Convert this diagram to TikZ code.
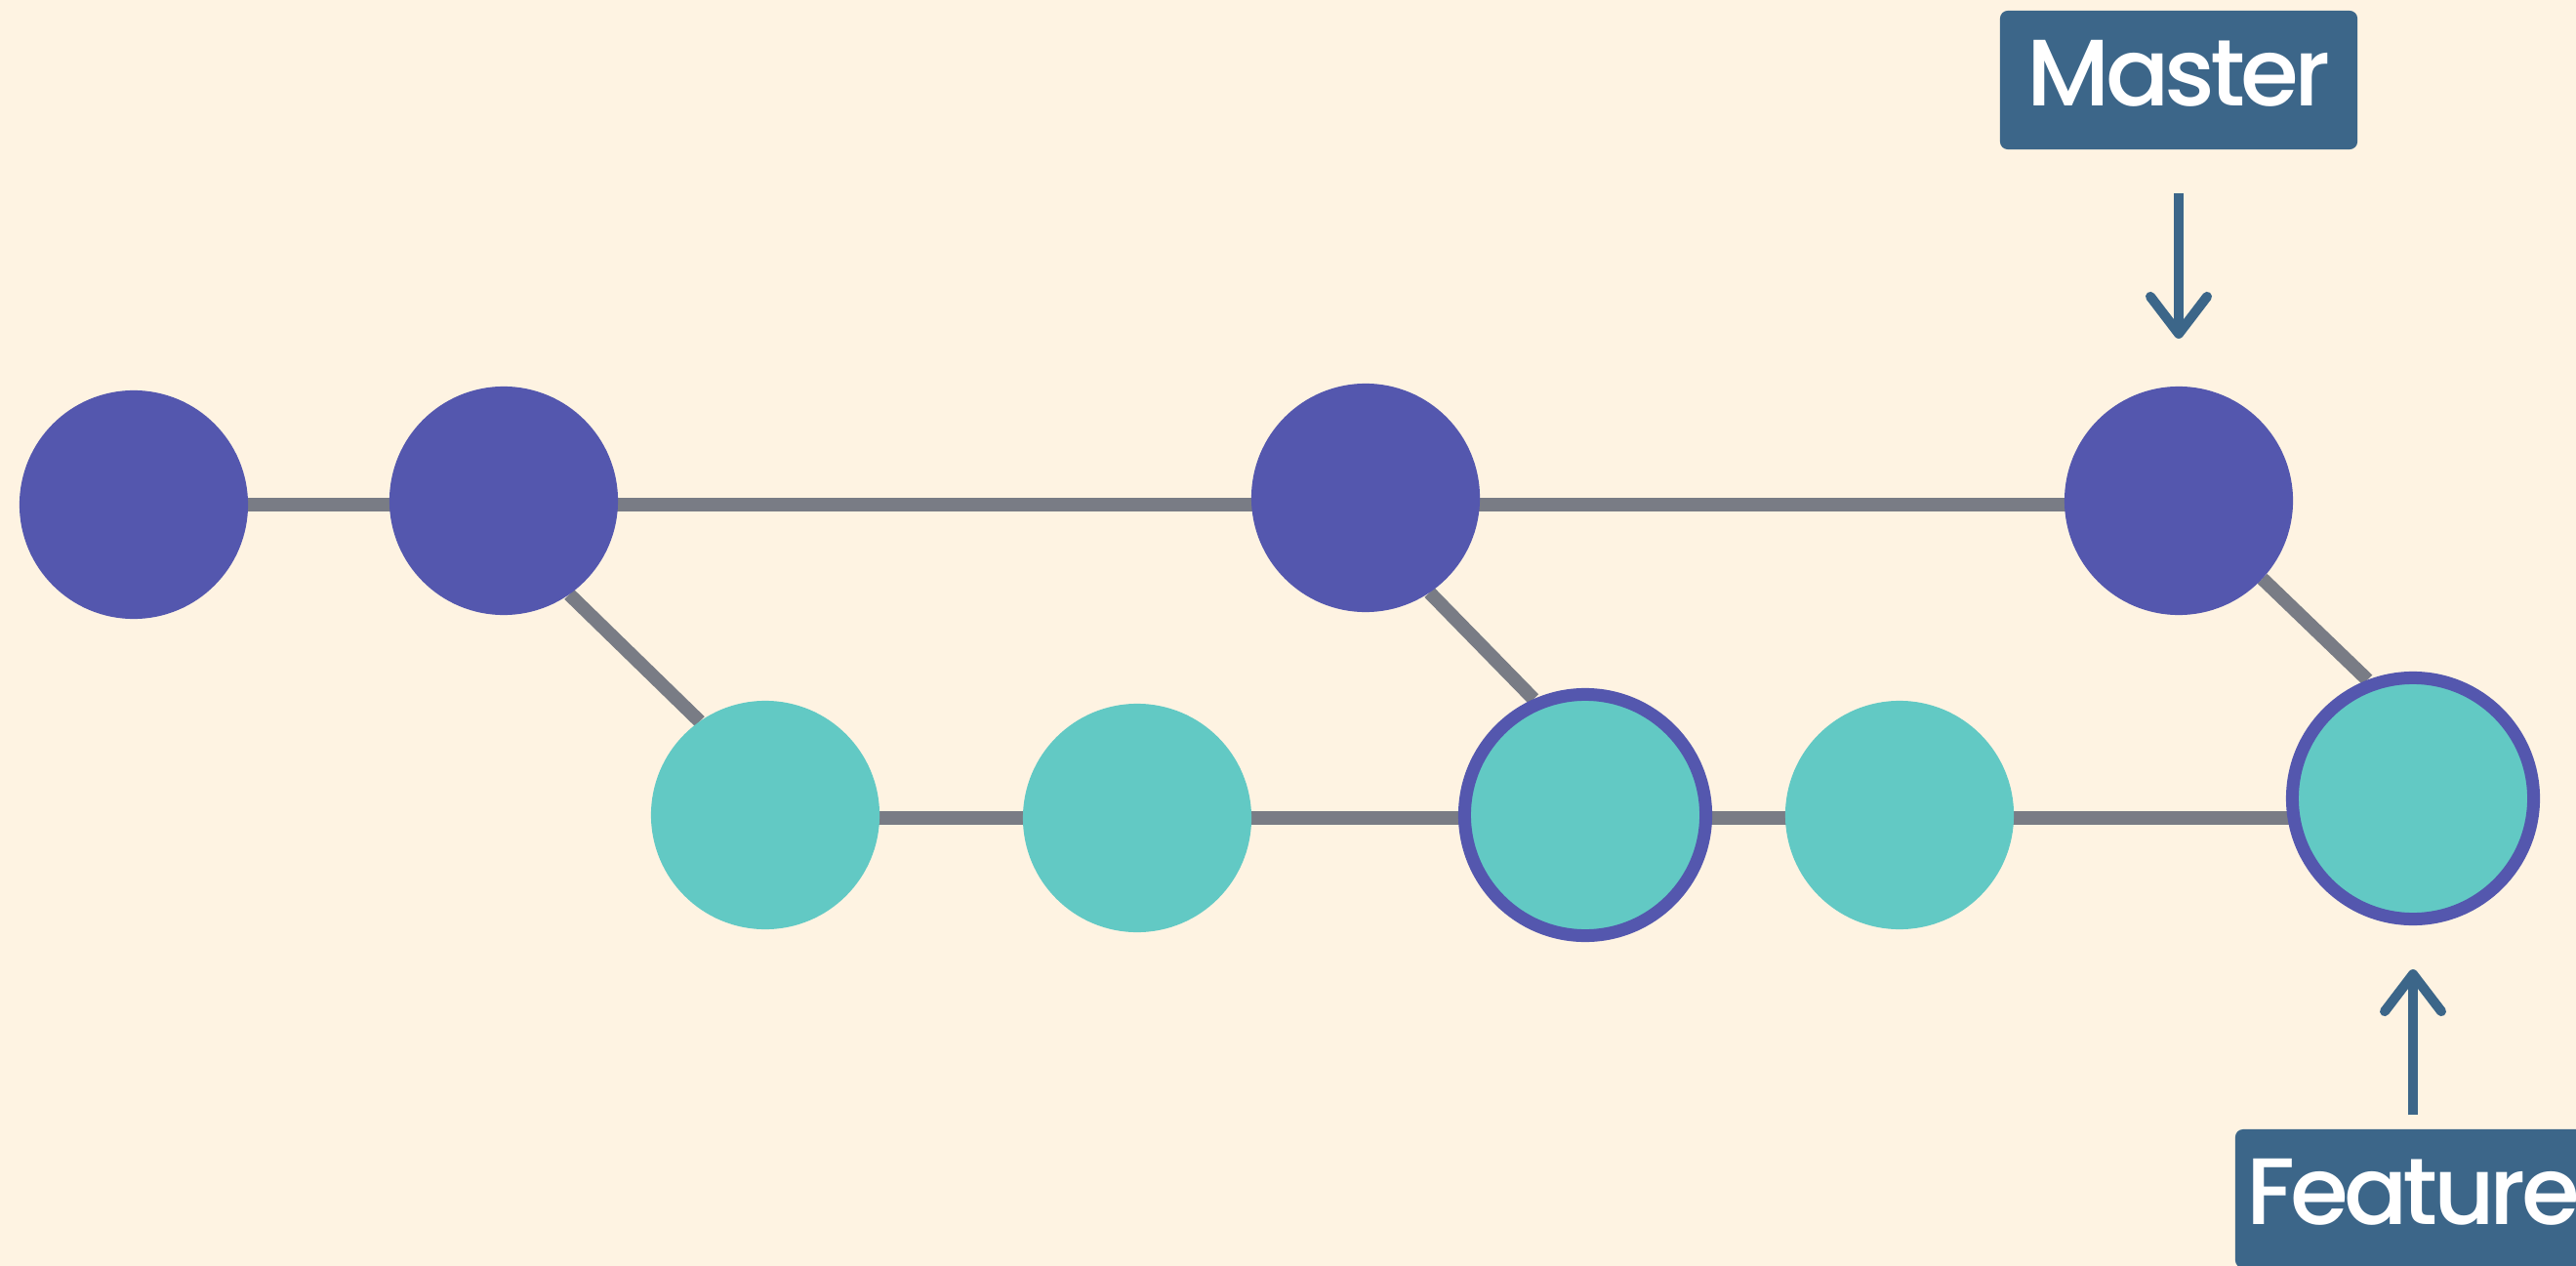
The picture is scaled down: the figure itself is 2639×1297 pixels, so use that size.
\documentclass[tikz,border=0pt]{standalone}
\usepackage{fontspec}
\newfontfamily\labelfont{Poppins}[UprightFont=* Medium,LetterSpace=-5]
\usetikzlibrary{arrows.meta}
\definecolor{paper}{HTML}{FEF3E2}
\definecolor{mastercol}{HTML}{5457AE}
\definecolor{featurecol}{HTML}{62C9C4}
\definecolor{linkcol}{HTML}{797C85}
\definecolor{tagcol}{HTML}{3C6689}
\pgfdeclarelayer{bg}
\pgfdeclarelayer{links}
\pgfsetlayers{bg,links,main}
\begin{document}
\begin{tikzpicture}[x=0.01cm,y=-0.01cm,
  commit/.style={circle,inner sep=0pt,outer sep=0pt,minimum size=2.34cm},
  mcommit/.style={commit,fill=mastercol},
  fcommit/.style={commit,fill=featurecol},
  headcommit/.style={circle,inner sep=0pt,outer sep=0.065cm,minimum size=2.47cm,
    fill=featurecol,draw=mastercol,line width=0.13cm},
  link/.style={draw=linkcol,line width=0.14cm},
  tag/.style={fill=tagcol,rounded corners=0.08cm,text=white,inner sep=0pt,
    minimum height=1.42cm,text depth=0.14cm,
    font=\labelfont\fontsize{27.5pt}{30pt}\selectfont},
  pointer/.style={draw=tagcol,line width=0.1cm,
    -{Straight Barb[length=0.38cm,width=0.58cm,round]}}]
\useasboundingbox (0,0) rectangle (2639,1297);
\begin{pgfonlayer}{bg}
  \fill[paper] (0,0) rectangle (2639,1297);
\end{pgfonlayer}

% master branch
\node[mcommit] (c1) at (137,517) {};
\node[mcommit] (c2) at (516,513) {};
\node[mcommit] (c3) at (1399,510) {};
\node[mcommit] (c4) at (2232,513) {};

% feature branch
\node[fcommit] (f1) at (784,835) {};
\node[fcommit] (f2) at (1165,838) {};
\node[headcommit] (f3) at (1624,835) {};
\node[fcommit] (f4) at (1946,835) {};
\node[headcommit] (f5) at (2472,818) {};

% history links
\begin{pgfonlayer}{links}
  \draw[link] (c1.center) -- (c1.center -| c4.center);
  \draw[link] (f1.center |- f2.center) -- (f2.center -| f5.center);
  \draw[link] (c2.-55) -- (f1.125);
  \draw[link] (c3.-56) -- (f3.114);
  \draw[link] (c4.-43) -- (f5.111);
\end{pgfonlayer}

% branch labels
\node[tag,minimum width=3.66cm] (master) at (2232,82) {Master};
\node[tag,minimum width=3.64cm] (feature) at (2472,1228) {Feature};

\draw[pointer,shorten <=0.44cm,shorten >=0.49cm] (master.south) -- (master.south |- c4.north);
\draw[pointer,shorten <=0.14cm,shorten >=0.45cm] (feature.north) -- (feature.north |- f5.south);
\end{tikzpicture}
\end{document}
